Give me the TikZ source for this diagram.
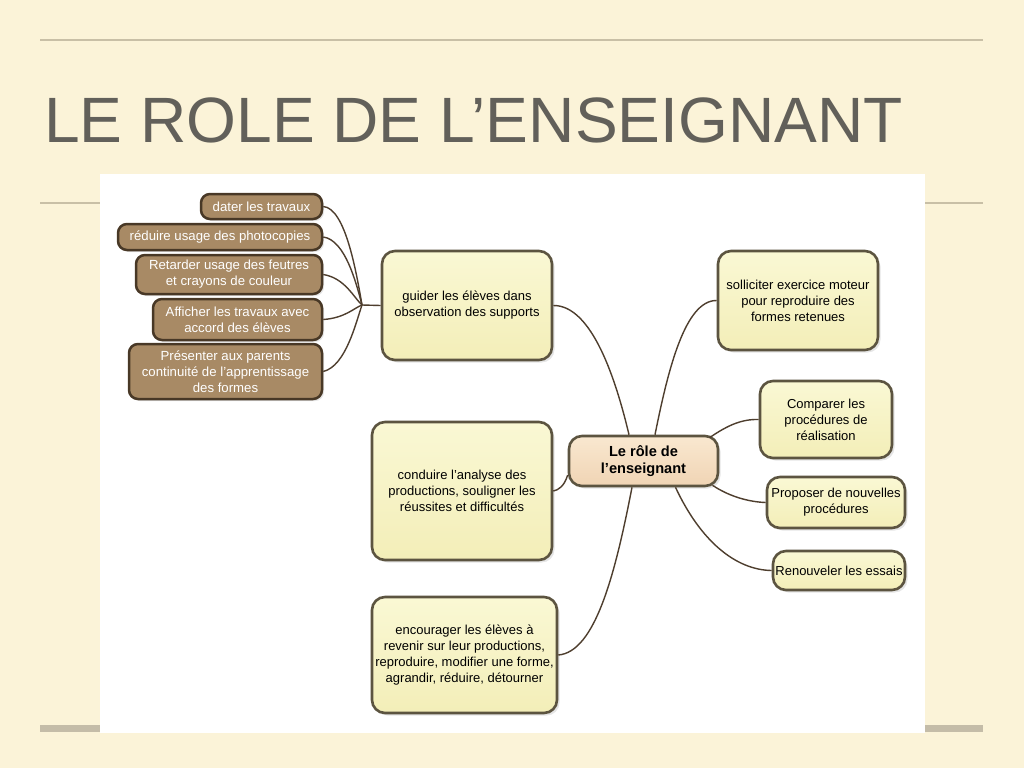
\documentclass[tikz,border=0pt]{standalone}
\usepackage{fontspec}
\setmainfont{Liberation Sans}
\usetikzlibrary{shadows}
\definecolor{bgcream}{RGB}{251,243,216}
\definecolor{rulecol}{RGB}{200,191,166}
\definecolor{barcol}{RGB}{196,188,168}
\definecolor{titlecol}{RGB}{98,96,90}
\definecolor{brownfill}{RGB}{168,138,101}
\definecolor{brownborder}{RGB}{72,56,38}
\definecolor{ytop}{RGB}{250,248,212}
\definecolor{ybot}{RGB}{243,238,184}
\definecolor{yborder}{RGB}{92,84,64}
\definecolor{ctop}{RGB}{249,232,208}
\definecolor{cbot}{RGB}{240,212,180}
\definecolor{linkcol}{RGB}{78,62,46}
\tikzset{
  leafbox/.style={draw=brownborder, line width=2.5pt, fill=brownfill, rounded corners=9pt,
    text=white, align=center, inner sep=0pt, font=\fontsize{13.2}{16}\selectfont,
    drop shadow={opacity=0.2, shadow xshift=2pt, shadow yshift=-2pt}},
  topicbox/.style={draw=yborder, line width=2.6pt, top color=ytop, bottom color=ybot, rounded corners=13pt,
    text=black, align=center, inner sep=0pt, font=\fontsize{13}{16}\selectfont,
    drop shadow={opacity=0.2, shadow xshift=2.5pt, shadow yshift=-2.5pt}},
  centralbox/.style={draw=yborder, line width=2.6pt, top color=ctop, bottom color=cbot, rounded corners=13pt,
    text=black, align=center, inner sep=0pt, font=\fontsize{14.6}{17.5}\selectfont\bfseries,
    drop shadow={opacity=0.2, shadow xshift=2.5pt, shadow yshift=-2.5pt}},
  link/.style={draw=linkcol, line width=1.4pt}
}
\begin{document}
\begin{tikzpicture}[x=1pt,y=-1pt]
\useasboundingbox (0,0) rectangle (1024,768);
\fill[bgcream] (0,0) rectangle (1024,768);
% rules
\draw[rulecol, line width=2pt] (40,40) -- (983,40);
\draw[rulecol, line width=2.2pt] (40,203) -- (983,203);
\draw[barcol, line width=7pt] (40,728.5) -- (983,728.5);
% title
\node[anchor=base west, inner sep=0pt, text=titlecol, font=\fontsize{64.1}{70}\selectfont] (title) at (44,142.5) {LE ROLE DE L’ENSEIGNANT};
% white panel
\fill[white] (100,174) rectangle (925,733);

% nodes
\node[leafbox, minimum width=121pt, minimum height=25pt] (dater) at (261.5,206.5) {dater les travaux};
\node[leafbox, minimum width=204pt, minimum height=26pt] (reduire) at (220,237) {réduire usage des photocopies};
\node[leafbox, minimum width=186pt, minimum height=39pt] (retarder) at (229,274.5) {Retarder usage des feutres\\ et crayons de couleur};
\node[leafbox, minimum width=169pt, minimum height=41pt] (afficher) at (237.5,319.5) {Afficher les travaux avec\\ accord des élèves};
\node[leafbox, minimum width=193pt, minimum height=55pt] (presenter) at (225.5,371.5) {Présenter aux parents\\ continuité de l’apprentissage\\ des formes};

\node[topicbox, minimum width=170pt, minimum height=109pt] (guider) at (467,305.5) {guider les élèves dans\\ observation des supports};
\node[topicbox, minimum width=160pt, minimum height=99pt] (solliciter) at (798,300.5) {solliciter exercice moteur\\ pour reproduire des\\ formes retenues};
\node[topicbox, minimum width=132pt, minimum height=77pt] (comparer) at (826,419.5) {Comparer les\\ procédures de\\ réalisation};
\node[topicbox, minimum width=138pt, minimum height=51pt] (proposer) at (836,502.5) {Proposer de nouvelles\\ procédures};
\node[topicbox, minimum width=132pt, minimum height=39pt] (renouveler) at (839,570.5) {Renouveler les essais};
\node[topicbox, minimum width=180pt, minimum height=138pt] (conduire) at (462,491) {conduire l’analyse des\\ productions, souligner les\\ réussites et difficultés};
\node[topicbox, minimum width=185pt, minimum height=116pt] (encourager) at (464.5,655) {encourager les élèves à\\ revenir sur leur productions,\\ reproduire, modifier une forme,\\ agrandir, réduire, détourner};
\node[centralbox, minimum width=149pt, minimum height=50pt] (central) at (643.5,461) {Le rôle de\\ l’enseignant};

% connectors
\coordinate (hub) at (362,305);
\draw[link] (dater.east) .. controls (345,208) and (356,270) .. (hub);
\draw[link] (reduire.east) .. controls (345,240) and (356,282) .. (hub);
\draw[link] (retarder.east) .. controls (345,278) and (354,298) .. (hub);
\draw[link] (afficher.east) .. controls (345,318) and (354,308) .. (hub);
\draw[link] (presenter.east) .. controls (346,366) and (356,322) .. (hub);
\draw[link] (hub) -- (guider.west);

\draw[link] (guider.east) .. controls (592,305) and (616,380) .. ([xshift=-14.5pt]central.north);
\draw[link] ([xshift=11.5pt]central.north) .. controls (668,370) and (685,300) .. (solliciter.west);
\draw[link] ([xshift=66pt,yshift=-3pt]central.north) .. controls (728,425) and (742,419) .. (comparer.west);
\draw[link] ([xshift=69pt,yshift=2pt]central.south) .. controls (730,497) and (750,502) .. (proposer.west);
\draw[link] ([xshift=32pt]central.south) .. controls (700,540) and (735,570) .. (renouveler.west);
\draw[link] ([yshift=-14pt]central.west) .. controls (564,487) and (558,490) .. (conduire.east);
\draw[link] ([xshift=-11.5pt]central.south) .. controls (615,575) and (595,652) .. (encourager.east);
\end{tikzpicture}
\end{document}
